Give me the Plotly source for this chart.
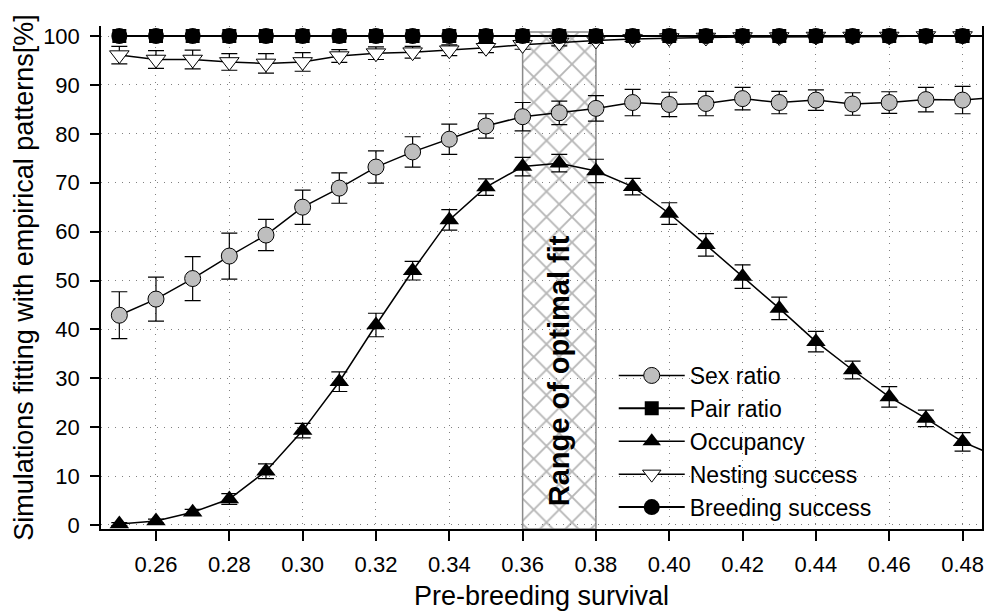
import plotly.graph_objects as go

# ---------------- data ----------------
survival = [0.25, 0.26, 0.27, 0.28, 0.29, 0.30, 0.31, 0.32, 0.33, 0.34, 0.35, 0.36,
            0.37, 0.38, 0.39, 0.40, 0.41, 0.42, 0.43, 0.44, 0.45, 0.46, 0.47, 0.48, 0.49]

sex_ratio = [42.9, 46.2, 50.4, 55.0, 59.3, 65.0, 68.9, 73.2, 76.3, 78.9, 81.6, 83.5,
             84.3, 85.2, 86.4, 86.0, 86.2, 87.2, 86.4, 86.9, 86.1, 86.4, 87.0, 86.9, 87.5]
sex_ratio_err = [4.8, 4.5, 4.5, 4.7, 3.2, 3.5, 3.1, 3.3, 3.1, 3.1, 2.5, 2.9,
                 2.4, 2.6, 2.7, 2.5, 2.5, 2.3, 2.3, 2.1, 2.3, 2.2, 2.5, 2.8, 2.5]

pair_ratio = [100, 100, 100, 100, 100, 100, 100, 100, 100, 100, 100, 100,
              100, 100, 100, 100, 100, 100, 100, 100, 100, 100, 100, 100, 100]

occupancy = [0.2, 0.8, 2.6, 5.3, 11.0, 19.3, 29.3, 40.9, 52.0, 62.4, 69.1, 73.3,
             74.0, 72.4, 69.2, 63.7, 57.3, 50.8, 44.3, 37.5, 31.7, 26.2, 21.8, 17.0, 13.8]
occupancy_err = [0.3, 0.4, 0.6, 1.1, 1.5, 1.5, 2.0, 2.4, 1.9, 2.1, 1.7, 1.9,
                 1.8, 2.4, 1.7, 2.2, 2.3, 2.4, 2.3, 2.1, 1.8, 2.1, 1.7, 1.9, 1.9]

nesting_success = [96.1, 95.2, 95.2, 94.7, 94.4, 94.7, 95.9, 96.5, 96.7, 97.1, 97.6, 98.2,
                   98.7, 99.1, 99.4, 99.6, 99.7, 99.8, 99.8, 99.9, 99.9, 99.9, 100, 100, 100]
nesting_success_err = [1.8, 1.8, 1.9, 1.7, 2.0, 1.9, 1.3, 1.3, 1.2, 1.1, 1.0, 0.9,
                       0.7, 0.6, 0.5, 0.4, 0.3, 0.3, 0.2, 0.2, 0.2, 0.1, 0.1, 0.1, 0.1]

breeding_success = [100, 100, 100, 100, 100, 100, 100, 100, 100, 100, 100, 100,
                    100, 100, 100, 100, 100, 100, 100, 100, 100, 100, 100, 100, 100]

optimal_range = [0.36, 0.38]
optimal_label = "Range of optimal fit"
optimal_top = 100.8

x_ticks = [0.26, 0.28, 0.30, 0.32, 0.34, 0.36, 0.38, 0.40, 0.42, 0.44, 0.46, 0.48]
y_ticks = [0, 10, 20, 30, 40, 50, 60, 70, 80, 90, 100]
x_range = [0.245, 0.4853]
y_range = [-0.82, 102.05]

FONT = "Liberation Sans, Arial, sans-serif"

fig = go.Figure()

# hatched optimal-fit band
fig.add_trace(go.Scatter(
    x=[optimal_range[0], optimal_range[1], optimal_range[1], optimal_range[0], optimal_range[0]],
    y=[y_range[0], y_range[0], optimal_top, optimal_top, y_range[0]],
    mode="lines", fill="toself", fillcolor="rgba(0,0,0,0)",
    fillpattern=dict(shape="x", fgcolor="#6e6e6e", bgcolor="rgba(0,0,0,0)", size=18, solidity=0.2),
    line=dict(color="#8a8a8a", width=1.5),
    showlegend=False, hoverinfo="skip"))

def err(v):
    return dict(type="data", array=v, visible=True, color="black", thickness=1.2, width=8)

fig.add_trace(go.Scatter(
    x=survival, y=sex_ratio, name="Sex ratio", mode="lines+markers",
    line=dict(color="black", width=1.5),
    marker=dict(symbol="circle", size=16, color="#bebebe", line=dict(color="black", width=1)),
    error_y=err(sex_ratio_err)))

fig.add_trace(go.Scatter(
    x=survival, y=occupancy, name="Occupancy_hidden", mode="lines+markers",
    line=dict(color="black", width=1.5),
    marker=dict(symbol="triangle-up", size=17, color="black"),
    error_y=err(occupancy_err), showlegend=False))

fig.add_trace(go.Scatter(
    x=survival, y=nesting_success, name="Nesting_hidden", mode="lines+markers",
    line=dict(color="black", width=1.5),
    marker=dict(symbol="triangle-down", size=17, color="white", line=dict(color="black", width=1)),
    error_y=err(nesting_success_err), showlegend=False))

fig.add_trace(go.Scatter(
    x=survival, y=pair_ratio, name="Pair ratio", mode="lines+markers",
    line=dict(color="black", width=2),
    marker=dict(symbol="square", size=14, color="black")))

# legend-only entries to keep order
fig.add_trace(go.Scatter(
    x=[None], y=[None], name="Occupancy", mode="lines+markers",
    line=dict(color="black", width=1.5),
    marker=dict(symbol="triangle-up", size=17, color="black")))
fig.add_trace(go.Scatter(
    x=[None], y=[None], name="Nesting success", mode="lines+markers",
    line=dict(color="black", width=1.5),
    marker=dict(symbol="triangle-down", size=17, color="white", line=dict(color="black", width=1))))

fig.add_trace(go.Scatter(
    x=survival, y=breeding_success, name="Breeding success", mode="lines+markers",
    line=dict(color="black", width=2),
    marker=dict(symbol="circle", size=16, color="black")))

fig.add_annotation(
    x=sum(optimal_range) / 2, y=31.5, text=optimal_label, textangle=-90,
    showarrow=False, font=dict(family=FONT, size=29, color="black", weight="bold"))

fig.update_layout(
    width=987, height=611, autosize=False,
    margin=dict(l=101, r=5, t=26, b=82),
    paper_bgcolor="white", plot_bgcolor="white",
    font=dict(family=FONT, color="black"),
    legend=dict(x=0.582, y=0.0, xanchor="left", yanchor="bottom",
                bgcolor="rgba(0,0,0,0)", font=dict(family=FONT, size=23),
                itemwidth=66, tracegroupgap=0),
    showlegend=True,
)

GRID = dict(showgrid=True, gridcolor="#808080", griddash="1px,6px", gridwidth=1.3)

fig.update_xaxes(
    range=x_range, tickvals=x_ticks, tickformat=".2f",
    ticks="outside", ticklen=10, tickwidth=1.5, tickcolor="black",
    showline=True, linecolor="black", linewidth=1.5,
    zeroline=False, tickfont=dict(family=FONT, size=22), ticklabelstandoff=5,
    title=dict(text="Pre-breeding survival", font=dict(family=FONT, size=27), standoff=15),
    automargin=False, **GRID)

fig.update_yaxes(
    range=y_range, tickvals=y_ticks,
    ticks="outside", ticklen=9, tickwidth=1.5, tickcolor="black",
    showline=True, linecolor="black", linewidth=1.5, mirror=True,
    zeroline=False, tickfont=dict(family=FONT, size=22), ticklabelstandoff=6,
    title=dict(text="Simulations fitting with empirical patterns[%]", font=dict(family=FONT, size=27), standoff=2),
    automargin=False, **GRID)

fig.write_html("out.html")
